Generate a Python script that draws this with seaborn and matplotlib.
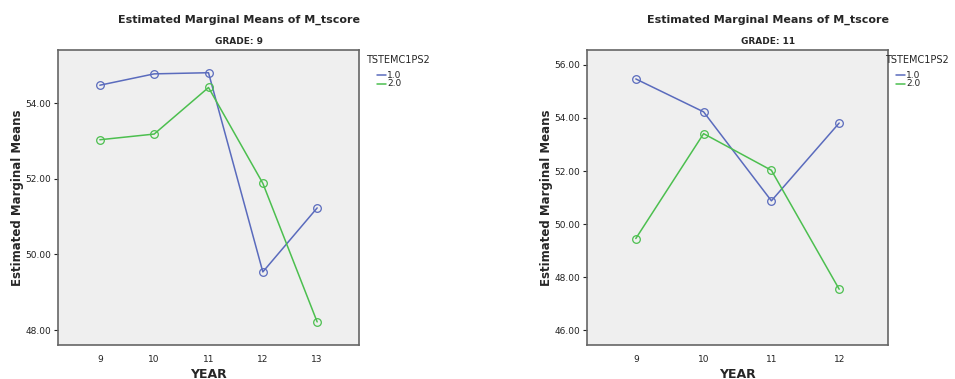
import numpy as np
import pandas as pd
import matplotlib
matplotlib.use("Agg")
import matplotlib.pyplot as plt
import seaborn as sns

# values
years_g9 = [9, 10, 11, 12, 13]
g9_level1 = [54.47, 54.77, 54.80, 49.54, 51.23]
g9_level2 = [53.03, 53.18, 54.41, 51.88, 48.22]

years_g11 = [9, 10, 11, 12]
g11_level1 = [55.47, 54.23, 50.88, 53.81]
g11_level2 = [49.46, 53.41, 52.03, 47.55]

levels = ["1.0", "2.0"]
palette = {"1.0": "#5a6bbd", "2.0": "#4cbf4f"}


def long_frame(years, s1, s2):
    return pd.DataFrame({
        "YEAR": years + years,
        "value": s1 + s2,
        "TSTEMC1PS2": [levels[0]] * len(years) + [levels[1]] * len(years),
    })


sns.set_style("white")
plt.rcParams["font.family"] = ["DejaVu Sans"]

fig = plt.figure(figsize=(9.55, 3.79), dpi=100)
W, H = 955, 379


def make_ax(x0, x1, y0=50, y1=345):
    return fig.add_axes([x0 / W, (H - y1) / H, (x1 - x0) / W, (y1 - y0) / H])


panels = [
    (make_ax(58, 359), long_frame(years_g9, g9_level1, g9_level2), "GRADE: 9",
     (8.23, 13.77), (47.61, 55.40), [48, 50, 52, 54], years_g9, 239, 366),
    (make_ax(587, 888), long_frame(years_g11, g11_level1, g11_level2), "GRADE: 11",
     (8.28, 12.72), (45.45, 56.56), [46, 48, 50, 52, 54, 56], years_g11, 768, 885),
]

for ax, df, sub, xlim, ylim, yticks, xticks, cx, lx in panels:
    ax.set_facecolor("#efefef")
    sns.lineplot(data=df, x="YEAR", y="value", hue="TSTEMC1PS2", palette=palette,
                 marker="o", markersize=5.5, lw=1.1, ax=ax, legend=False)
    # hollow circle markers like SPSS
    for ln, lv in zip(ax.get_lines(), levels):
        ln.set_markerfacecolor("none")
        ln.set_markeredgecolor(palette[lv])
        ln.set_markeredgewidth(0.9)
    ax.set_xlim(*xlim)
    ax.set_ylim(*ylim)
    ax.set_xticks(xticks)
    ax.set_yticks(yticks)
    ax.set_yticklabels([f"{t:.2f}" for t in yticks])
    ax.tick_params(axis="both", labelsize=6.5, length=3, width=0.8,
                   direction="out", colors="#222222", left=True, bottom=False, pad=2)
    ax.tick_params(axis="x", pad=4)
    for s in ax.spines.values():
        s.set_color("#666666")
        s.set_linewidth(1.2)
    ax.set_xlabel("YEAR", fontsize=9, fontweight="bold", labelpad=3)
    ax.set_ylabel("Estimated Marginal Means", fontsize=8.5, fontweight="bold", labelpad=1)

    # titles are centred over plot + legend area
    fig.text(cx / W, (H - 20) / H, "Estimated Marginal Means of M_tscore",
             ha="center", va="center", fontsize=8, fontweight="bold")
    fig.text(cx / W, (H - 42) / H, sub, ha="center", va="center",
             fontsize=6.5, fontweight="bold")

    fig.text(lx / W, (H - 60) / H, "TSTEMC1PS2", fontsize=7, va="center", ha="left")
    for i, lv in enumerate(levels):
        yy = (H - 75 - 9 * i) / H
        fig.add_artist(plt.Line2D([(lx + 11) / W, (lx + 20) / W], [yy, yy],
                                  color=palette[lv], lw=1.1))
        fig.text((lx + 21) / W, yy, lv, fontsize=6.5, va="center", ha="left")

fig.savefig("out.png", dpi=100)
